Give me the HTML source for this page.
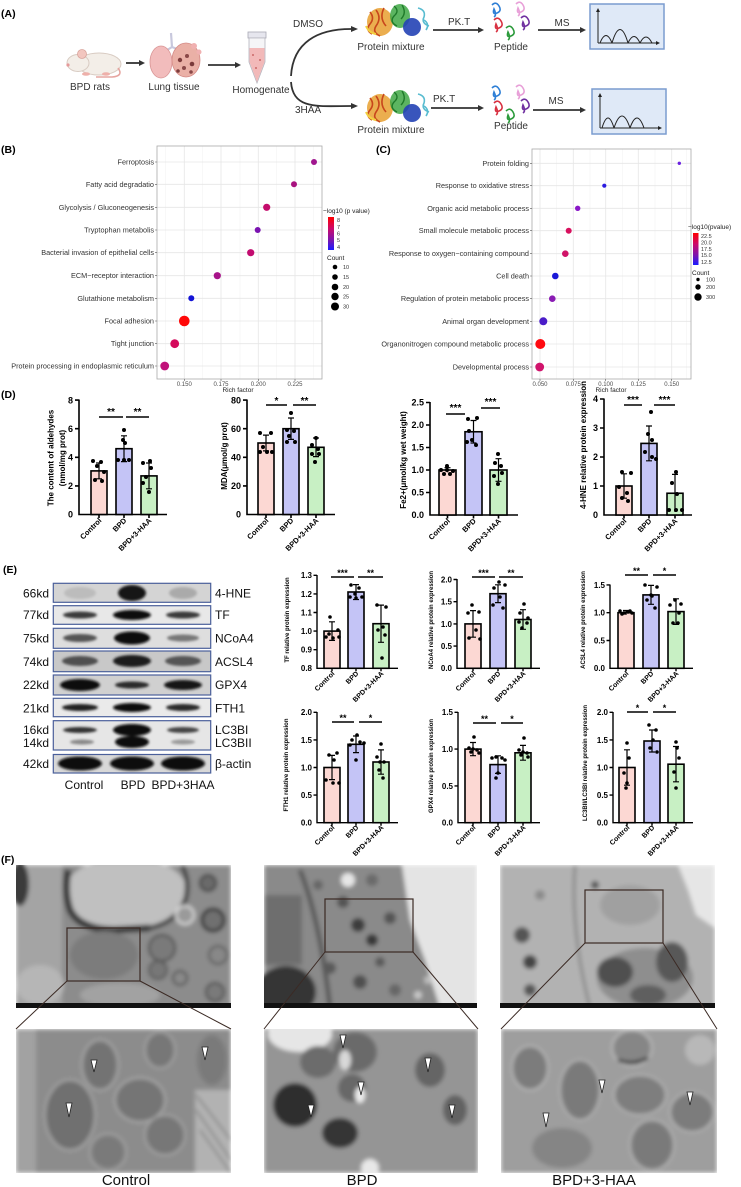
<!DOCTYPE html>
<html><head><meta charset="utf-8"><style>
html,body{margin:0;padding:0;background:#fff;}
svg{display:block;font-family:"Liberation Sans",Arial,sans-serif;}
.ax{stroke:#000;stroke-width:1.6;fill:none}
.ax2{stroke:#000;stroke-width:1.4;fill:none}
.b1{fill:#fcd8d3;stroke:#000;stroke-width:1.6}
.b2{fill:#c4c4f6;stroke:#000;stroke-width:1.6}
.b3{fill:#c8f0c4;stroke:#000;stroke-width:1.6}
.eb{stroke:#000;stroke-width:1.2;fill:none}
.tk{font-size:9px;font-weight:bold;text-anchor:end}
.tk2{font-size:8px;font-weight:bold;text-anchor:end}
.xl{font-size:7.5px;font-weight:bold;text-anchor:end}
.xl2{font-size:7px;font-weight:bold;text-anchor:end}
.st{font-size:10px;font-weight:bold;text-anchor:middle}
.st2{font-size:9px;font-weight:bold;text-anchor:middle}
.yl{font-size:8px;font-weight:bold;text-anchor:middle}
.yl2{font-size:6px;font-weight:bold;text-anchor:middle}
.pl{font-size:10.5px;font-weight:bold}
.al{font-size:10px;fill:#333}
.bl{font-size:7.3px;fill:#333;text-anchor:end}
.gt{font-size:6px;fill:#4d4d4d;text-anchor:middle}
.lg{font-size:6.5px;fill:#222}
.ln{font-size:5.5px;fill:#333}
.wb{font-size:12px;fill:#111}
.gmaj{stroke:#e6e6e6;stroke-width:0.8}
.gmin{stroke:#f2f2f2;stroke-width:0.6}
.dt circle{fill:#000}
.fl{font-size:15px;fill:#111;text-anchor:middle}
</style></head><body>
<svg width="741" height="1187" viewBox="0 0 741 1187" xmlns="http://www.w3.org/2000/svg">
<defs>
<linearGradient id="cb" x1="0" y1="0" x2="0" y2="1"><stop offset="0" stop-color="#ff0000"/><stop offset="0.35" stop-color="#cc0a6a"/><stop offset="0.7" stop-color="#7a14b0"/><stop offset="1" stop-color="#1a1aff"/></linearGradient>
<filter id="bl" x="-30%" y="-80%" width="160%" height="260%"><feGaussianBlur stdDeviation="1.4"/></filter>
<filter id="fb" x="-5%" y="-5%" width="110%" height="110%"><feGaussianBlur stdDeviation="2"/></filter>
<clipPath id="c1"><rect x="16" y="865" width="215" height="143"/></clipPath>
<clipPath id="c2"><rect x="264" y="865" width="213" height="143"/></clipPath>
<clipPath id="c3"><rect x="500" y="865" width="215" height="143"/></clipPath>
<clipPath id="c4"><rect x="16" y="1029" width="215" height="144"/></clipPath>
<clipPath id="c5"><rect x="264" y="1029" width="214" height="144"/></clipPath>
<clipPath id="c6"><rect x="501" y="1029" width="216" height="144"/></clipPath>
</defs>
<rect width="741" height="1187" fill="#fff"/>

<!-- ============ PANEL A ============ -->
<text class="pl" x="1" y="17">(A)</text>
<!-- rat -->
<ellipse cx="99" cy="64" rx="22" ry="11" fill="#f3eee8" stroke="#d8cbc2" stroke-width="1"/>
<ellipse cx="78" cy="63" rx="11" ry="8.5" fill="#f3eee8" stroke="#d8cbc2" stroke-width="1"/>
<circle cx="82" cy="54" r="4.5" fill="#f2c6bf" stroke="#d9a49c" stroke-width="0.8"/>
<circle cx="68" cy="65" r="1.6" fill="#e59a9a"/>
<path d="M118,68 Q124,76 112,77 L96,77" stroke="#e6a5a0" stroke-width="1.6" fill="none"/>
<ellipse cx="86" cy="74" rx="4" ry="1.8" fill="#eeb0aa"/>
<ellipse cx="106" cy="74" rx="4" ry="1.8" fill="#eeb0aa"/>
<!-- lung -->
<path d="M171,33 L172,47 M172,47 L164,52 M172,47 L182,51" stroke="#c8c8dd" stroke-width="2.2" fill="none"/>
<ellipse cx="161" cy="62" rx="11" ry="16" fill="#f2bcbc" stroke="#d99595" stroke-width="0.8"/>
<ellipse cx="186" cy="60" rx="14" ry="17" fill="#eab0a6" stroke="#d48a86" stroke-width="0.8"/>
<circle cx="180" cy="60" r="2.2" fill="#7d3c3c"/><circle cx="187" cy="56" r="2" fill="#8a4848"/><circle cx="192" cy="64" r="2.3" fill="#7a3a3a"/><circle cx="184" cy="68" r="2" fill="#8a4848"/><circle cx="178" cy="71" r="1.8" fill="#7d3c3c"/><circle cx="191" cy="72" r="1.8" fill="#8a4848"/>
<circle cx="194" cy="46" r="3" fill="#f0b0b0"/><circle cx="199" cy="52" r="2.5" fill="#f0b0b0"/>
<!-- tube -->
<rect x="248" y="32" width="18" height="6" fill="#e6e6ee" stroke="#a9a9b5" stroke-width="0.8"/>
<path d="M249,38 L265,38 L265,62 L257,83 L249,62 Z" fill="#f5f5f7" stroke="#b5b5bf" stroke-width="0.8"/>
<path d="M249.5,48 L264.5,48 L264.5,62 L257,82 L249.5,62 Z" fill="#f2b9b9"/>
<circle cx="253" cy="55" r="0.9" fill="#c05050"/><circle cx="260" cy="60" r="0.9" fill="#c05050"/><circle cx="256" cy="68" r="0.9" fill="#c05050"/>
<!-- arrows -->
<g stroke="#333" stroke-width="1.8" fill="none">
<path d="M126,63 H139"/><path d="M208,65 H235"/>
<path d="M291,76 C293,42 318,29 351,29"/>
<path d="M291,82 C293,110 318,106 351,106"/>
<path d="M433,30 H478"/><path d="M538,30 H580"/>
<path d="M431,108 H478"/><path d="M533,110 H580"/>
</g>
<g fill="#333">
<polygon points="139,60 145,63 139,66"/><polygon points="235,62 241,65 235,68"/>
<polygon points="351,26 358,29 351,32"/><polygon points="351,103 358,106 351,109"/>
<polygon points="478,27 484,30 478,33"/><polygon points="580,27 586,30 580,33"/>
<polygon points="478,105 484,108 478,111"/><polygon points="580,107 586,110 580,113"/>
</g>
<!-- proteins -->
<g id="prot">
<ellipse cx="380" cy="22" rx="13" ry="14" fill="#e8a030" opacity="0.85"/>
<path d="M370,12 q5,6 0,12 q-5,6 2,10 M376,10 q6,8 0,16 q-4,6 4,10 M384,8 q-5,10 2,18" stroke="#c8461c" stroke-width="1.6" fill="none"/>
<ellipse cx="400" cy="16" rx="10" ry="12" fill="#40a845" opacity="0.85"/>
<path d="M394,6 q6,5 0,10 q-5,6 3,10 M402,5 q5,8 -1,14" stroke="#1f7a2a" stroke-width="1.4" fill="none"/>
<ellipse cx="412" cy="27" rx="9" ry="9" fill="#2443b5" opacity="0.9"/>
<path d="M418,8 q8,2 6,9 q-3,6 5,9 M424,20 q6,4 2,10" stroke="#58bcd0" stroke-width="1.6" fill="none"/>
<path d="M366,26 q3,7 10,8" stroke="#f2d040" stroke-width="2" fill="none"/>
</g>
<use href="#prot" transform="translate(0,86)"/>
<!-- peptides -->
<g id="pep" fill="none" stroke-width="1.6">
<path d="M492,5 q4,-4 7,1 q3,5 -2,7 q-5,2 -3,-4 q3,6 0,8" stroke="#2e7fd6"/>
<path d="M516,4 q4,-4 7,1 q3,5 -2,7 q-5,2 -3,-4 q3,6 0,8" stroke="#e8a0d8"/>
<path d="M494,20 q4,-4 7,1 q3,5 -2,7 q-5,2 -3,-4 q3,6 0,8" stroke="#d83040"/>
<path d="M521,18 q4,-4 7,1 q3,5 -2,7 q-5,2 -3,-4 q3,6 0,8" stroke="#7030a0"/>
<path d="M506,28 q4,-4 7,1 q3,5 -2,7 q-5,2 -3,-4 q3,6 0,8" stroke="#2a9a3a"/>
</g>
<use href="#pep" transform="translate(0,83)"/>
<!-- graph boxes -->
<rect x="590" y="4" width="74" height="45" fill="#dfe9f7" stroke="#7a9ccf" stroke-width="1.5"/>
<g stroke="#222" stroke-width="1" fill="none">
<path d="M598,43 V11 M598,43 H657"/>
<path d="M600,43 Q606,28 612,43 M612,43 Q620,16 628,43 M628,43 Q634,30 640,43 M640,43 Q646,31 652,43"/>
</g>
<polygon points="596,12 598,8 600,12" fill="#222"/><polygon points="656,41 660,43 656,45" fill="#222"/>
<rect x="592" y="89" width="74" height="45" fill="#dfe9f7" stroke="#7a9ccf" stroke-width="1.5"/>
<g stroke="#222" stroke-width="1" fill="none">
<path d="M600,128 V96 M600,128 H659"/>
<path d="M602,128 Q608,108 614,128 M614,128 Q622,104 630,128 M630,128 Q637,108 644,128"/>
</g>
<polygon points="598,97 600,93 602,97" fill="#222"/><polygon points="658,126 662,128 658,130" fill="#222"/>
<!-- A text -->
<text class="al" x="90" y="90" text-anchor="middle">BPD rats</text>
<text class="al" x="174" y="90" text-anchor="middle">Lung tissue</text>
<text class="al" x="261" y="93" text-anchor="middle">Homogenate</text>
<text class="al" x="293" y="27">DMSO</text>
<text class="al" x="295" y="113">3HAA</text>
<text class="al" x="391" y="50" text-anchor="middle">Protein mixture</text>
<text class="al" x="391" y="133" text-anchor="middle">Protein mixture</text>
<text class="al" x="448" y="25">PK.T</text>
<text class="al" x="433" y="102">PK.T</text>
<text class="al" x="511" y="50" text-anchor="middle">Peptide</text>
<text class="al" x="511" y="129" text-anchor="middle">Peptide</text>
<text class="al" x="562" y="26" text-anchor="middle">MS</text>
<text class="al" x="556" y="104" text-anchor="middle">MS</text>

<!-- ============ PANEL B ============ -->
<text class="pl" x="1" y="153">(B)</text>
<rect x="157" y="146" width="165" height="233" fill="#fff"/>
<g class="gmin"><path d="M165.7,146V379M202.7,146V379M240,146V379M276.7,146V379M313.3,146V379"/></g>
<g class="gmaj"><path d="M184.3,146V379M221,146V379M258.3,146V379M295,146V379"/>
<path d="M157,162H322M157,184.3H322M157,207.3H322M157,230H322M157,252.7H322M157,275.7H322M157,298.3H322M157,321H322M157,343.7H322M157,366H322"/></g>
<rect x="157" y="146" width="165" height="233" fill="none" stroke="#aaa" stroke-width="0.8"/>
<g stroke="#555" stroke-width="0.6"><path d="M155,162H157M155,184.3H157M155,207.3H157M155,230H157M155,252.7H157M155,275.7H157M155,298.3H157M155,321H157M155,343.7H157M155,366H157M184.3,379V381M221,379V381M258.3,379V381M295,379V381"/></g>
<circle cx="314" cy="162" r="3" fill="#a0168e"/>
<circle cx="294" cy="184.3" r="3" fill="#a8127f"/>
<circle cx="266.7" cy="207.3" r="3.6" fill="#c40c6c"/>
<circle cx="257.7" cy="230" r="3" fill="#7a12b0"/>
<circle cx="250.7" cy="252.7" r="3.6" fill="#c20c70"/>
<circle cx="217.3" cy="275.7" r="3.6" fill="#a8148a"/>
<circle cx="191.3" cy="298.3" r="3" fill="#1414d6"/>
<circle cx="184.3" cy="321" r="5.3" fill="#ff0808"/>
<circle cx="174.7" cy="343.7" r="4.4" fill="#d40a5c"/>
<circle cx="164.7" cy="366" r="4.4" fill="#c0127a"/>
<text class="bl" x="154" y="164.5">Ferroptosis</text>
<text class="bl" x="154" y="186.8">Fatty acid degradatio</text>
<text class="bl" x="154" y="209.8">Glycolysis / Gluconeogenesis</text>
<text class="bl" x="154" y="232.5">Tryptophan metabolis</text>
<text class="bl" x="154" y="255.2">Bacterial invasion of epithelial cells</text>
<text class="bl" x="154" y="278.2">ECM−receptor interaction</text>
<text class="bl" x="154" y="300.8">Glutathione metabolism</text>
<text class="bl" x="154" y="323.5">Focal adhesion</text>
<text class="bl" x="154" y="346.2">Tight junction</text>
<text class="bl" x="154" y="368.5">Protein processing in endoplasmic reticulum</text>
<text class="gt" x="184.3" y="386">0.150</text><text class="gt" x="221" y="386">0.175</text><text class="gt" x="258.3" y="386">0.200</text><text class="gt" x="295" y="386">0.225</text>
<text class="lg" x="238" y="392" text-anchor="middle">Rich factor</text>
<text class="lg" x="323" y="213">−log10 (p value)</text>
<rect x="328" y="217" width="6" height="33" fill="url(#cb)"/>
<text class="ln" x="337" y="222">8</text><text class="ln" x="337" y="229">7</text><text class="ln" x="337" y="235.5">6</text><text class="ln" x="337" y="242">5</text><text class="ln" x="337" y="249">4</text>
<text class="lg" x="327" y="260">Count</text>
<circle cx="335" cy="267" r="2.3"/><circle cx="335" cy="277" r="2.8"/><circle cx="335" cy="287" r="3.3"/><circle cx="335" cy="296.5" r="3.7"/><circle cx="335" cy="306.5" r="4"/>
<text class="ln" x="343" y="269">10</text><text class="ln" x="343" y="279">15</text><text class="ln" x="343" y="289">20</text><text class="ln" x="343" y="298.5">25</text><text class="ln" x="343" y="308.5">30</text>

<!-- ============ PANEL C ============ -->
<text class="pl" x="376" y="153">(C)</text>
<g class="gmin"><path d="M556.7,149V379M590,149V379M622.3,149V379M655,149V379M686.7,149V379"/></g>
<g class="gmaj"><path d="M540,149V379M573.3,149V379M605.7,149V379M638.3,149V379M671.7,149V379"/>
<path d="M532,163.3H691M532,185.7H691M532,208.3H691M532,230.7H691M532,253.7H691M532,276H691M532,298.7H691M532,321.3H691M532,344H691M532,367H691"/></g>
<rect x="532" y="149" width="159" height="230" fill="none" stroke="#aaa" stroke-width="0.8"/>
<g stroke="#555" stroke-width="0.6"><path d="M530,163.3H532M530,185.7H532M530,208.3H532M530,230.7H532M530,253.7H532M530,276H532M530,298.7H532M530,321.3H532M530,344H532M530,367H532M540,379V381M573.3,379V381M605.7,379V381M638.3,379V381M671.7,379V381"/></g>
<circle cx="679.3" cy="163.3" r="1.7" fill="#6a20e0"/>
<circle cx="604.3" cy="185.7" r="2.1" fill="#2a1ae0"/>
<circle cx="577.7" cy="208.3" r="2.7" fill="#8a18c8"/>
<circle cx="568.7" cy="230.7" r="3" fill="#d8105e"/>
<circle cx="565.3" cy="253.7" r="3.3" fill="#d01468"/>
<circle cx="555.3" cy="276" r="3.3" fill="#1a18d8"/>
<circle cx="552.3" cy="298.7" r="3.3" fill="#8a1cb4"/>
<circle cx="543.3" cy="321.3" r="4" fill="#4a1cc8"/>
<circle cx="540.3" cy="344" r="5" fill="#ff0a10"/>
<circle cx="539.7" cy="367" r="4.4" fill="#d0146c"/>
<text class="bl" x="529" y="165.8">Protein folding</text>
<text class="bl" x="529" y="188.2">Response to oxidative stress</text>
<text class="bl" x="529" y="210.8">Organic acid metabolic process</text>
<text class="bl" x="529" y="233.2">Small molecule metabolic process</text>
<text class="bl" x="529" y="256.2">Response to oxygen−containing compound</text>
<text class="bl" x="529" y="278.5">Cell death</text>
<text class="bl" x="529" y="301.2">Regulation of protein metabolic process</text>
<text class="bl" x="529" y="323.8">Animal organ development</text>
<text class="bl" x="529" y="346.5">Organonitrogen compound metabolic process</text>
<text class="bl" x="529" y="369.5">Developmental process</text>
<text class="gt" x="540" y="386">0.050</text><text class="gt" x="573.3" y="386">0.075</text><text class="gt" x="605.7" y="386">0.100</text><text class="gt" x="638.3" y="386">0.125</text><text class="gt" x="671.7" y="386">0.150</text>
<text class="lg" x="611" y="392" text-anchor="middle">Rich factor</text>
<text class="lg" x="688" y="229">−log10(pvalue)</text>
<rect x="693" y="233" width="5.5" height="32" fill="url(#cb)"/>
<text class="ln" x="701" y="238">22.5</text><text class="ln" x="701" y="244.5">20.0</text><text class="ln" x="701" y="251">17.5</text><text class="ln" x="701" y="257">15.0</text><text class="ln" x="701" y="264">12.5</text>
<text class="lg" x="692" y="275">Count</text>
<circle cx="698" cy="279.5" r="1.7"/><circle cx="698" cy="287" r="2.7"/><circle cx="698" cy="297" r="3.7"/>
<text class="ln" x="706" y="281.5">100</text><text class="ln" x="706" y="289">200</text><text class="ln" x="706" y="299">300</text>

<!-- ============ PANEL D ============ -->
<text class="pl" x="1" y="398">(D)</text>
<!-- D1 -->
<path class="ax" d="M79,399.5V514.5H167"/>
<path class="ax" d="M75,400.1H79M75,428.7H79M75,457.3H79M75,485.9H79M99,514.5v3.5M124,514.5v3.5M149,514.5v3.5"/>
<text class="tk" x="73" y="403.3">8</text><text class="tk" x="73" y="431.9">6</text><text class="tk" x="73" y="460.5">4</text><text class="tk" x="73" y="489.1">2</text><text class="tk" x="73" y="517.7">0</text>
<rect class="b1" x="91" y="470.9" width="16" height="43.6"/>
<rect class="b2" x="116" y="448.7" width="16" height="65.8"/>
<rect class="b3" x="141" y="475.9" width="16" height="38.6"/>
<path class="eb" d="M99,463V478.8M96,463H102M96,478.8H102M124,435.8V461.6M121,435.8H127M121,461.6H127M149,463V488.8M146,463H152M146,488.8H152"/>
<g class="dt"><circle cx="93" cy="461" r="2"/><circle cx="101" cy="462" r="2"/><circle cx="97" cy="466" r="2"/><circle cx="104" cy="472" r="2"/><circle cx="95" cy="480" r="2"/><circle cx="102" cy="481" r="2"/>
<circle cx="124" cy="430" r="2"/><circle cx="123" cy="440" r="2"/><circle cx="125" cy="443" r="2"/><circle cx="118" cy="460" r="2"/><circle cx="124" cy="460" r="2"/><circle cx="129" cy="460" r="2"/>
<circle cx="150" cy="461" r="2"/><circle cx="143" cy="463" r="2"/><circle cx="151" cy="468" r="2"/><circle cx="146" cy="477" r="2"/><circle cx="143" cy="483" r="2"/><circle cx="149" cy="492" r="2"/></g>
<path class="ax" d="M99,417H123M126,417H149"/>
<text class="st" x="111" y="415">**</text><text class="st" x="137.5" y="415">**</text>
<text class="yl" transform="translate(53.5,458) rotate(-90)">The content of aldehydes</text>
<text class="yl" transform="translate(65,458) rotate(-90)">(nmol/mg prot)</text>
<text class="xl" transform="translate(102,521) rotate(-45)">Control</text>
<text class="xl" transform="translate(127,521) rotate(-45)">BPD</text>
<text class="xl" transform="translate(152,521) rotate(-45)">BPD+3-HAA</text>
<!-- D2 -->
<path class="ax" d="M247,399.5V514.5H335"/>
<path class="ax" d="M243,400.1H247M243,428.7H247M243,457.3H247M243,485.9H247M266,514.5v3.5M291,514.5v3.5M316,514.5v3.5"/>
<text class="tk" x="241" y="403.3">80</text><text class="tk" x="241" y="431.9">60</text><text class="tk" x="241" y="460.5">40</text><text class="tk" x="241" y="489.1">20</text><text class="tk" x="241" y="517.7">0</text>
<rect class="b1" x="258" y="443" width="16" height="71.5"/>
<rect class="b2" x="283" y="428.7" width="16" height="85.8"/>
<rect class="b3" x="308" y="447.3" width="16" height="67.2"/>
<path class="eb" d="M266,435.1V450.9M263,435.1H269M263,450.9H269M291,418V439.4M288,418H294M288,439.4H294M316,438V456.6M313,438H319M313,456.6H319"/>
<g class="dt"><circle cx="260" cy="433" r="2"/><circle cx="271" cy="433" r="2"/><circle cx="263" cy="447" r="2"/><circle cx="260" cy="452" r="2"/><circle cx="267" cy="452" r="2"/><circle cx="272" cy="452" r="2"/>
<circle cx="291" cy="413" r="2"/><circle cx="287" cy="430" r="2"/><circle cx="294" cy="431" r="2"/><circle cx="289" cy="436" r="2"/><circle cx="287" cy="442" r="2"/><circle cx="295" cy="442" r="2"/>
<circle cx="316" cy="438" r="2"/><circle cx="312" cy="445" r="2"/><circle cx="318" cy="449" r="2"/><circle cx="312" cy="454" r="2"/><circle cx="319" cy="454" r="2"/><circle cx="315" cy="462" r="2"/></g>
<path class="ax" d="M266,405H287M293,405H316"/>
<text class="st" x="276.5" y="404">*</text><text class="st" x="304.5" y="404">**</text>
<text class="yl" transform="translate(227,456) rotate(-90)">MDA(μmol/g prot)</text>
<text class="xl" transform="translate(269,521) rotate(-45)">Control</text>
<text class="xl" transform="translate(294,521) rotate(-45)">BPD</text>
<text class="xl" transform="translate(319,521) rotate(-45)">BPD+3-HAA</text>
<!-- D3 -->
<path class="ax" d="M430,402V515H518"/>
<path class="ax" d="M426,402.5H430M426,425H430M426,447.5H430M426,470H430M426,492.5H430M447.5,515v3.5M473.5,515v3.5M498.5,515v3.5"/>
<text class="tk" x="424" y="405.7">2.5</text><text class="tk" x="424" y="428.2">2.0</text><text class="tk" x="424" y="450.7">1.5</text><text class="tk" x="424" y="473.2">1.0</text><text class="tk" x="424" y="495.7">0.5</text><text class="tk" x="424" y="518.2">0.0</text>
<rect class="b1" x="439" y="470" width="17" height="45"/>
<rect class="b2" x="465" y="431.75" width="17" height="83.25"/>
<rect class="b3" x="490" y="470" width="17" height="45"/>
<path class="eb" d="M447.5,467.7V472.3M444.5,467.7H450.5M473.5,420.5V443M470.5,420.5H476.5M470.5,443H476.5M498.5,458.7V481.3M495.5,458.7H501.5M495.5,481.3H501.5"/>
<g class="dt"><circle cx="441" cy="470" r="2"/><circle cx="447" cy="466" r="2"/><circle cx="453" cy="471" r="2"/><circle cx="444" cy="474" r="2"/><circle cx="450" cy="474" r="2"/><circle cx="447" cy="470" r="2"/>
<circle cx="468" cy="419" r="2"/><circle cx="477" cy="418" r="2"/><circle cx="469" cy="431" r="2"/><circle cx="472" cy="440" r="2"/><circle cx="476" cy="445" r="2"/><circle cx="467" cy="442" r="2"/>
<circle cx="498" cy="454" r="2"/><circle cx="495" cy="463" r="2"/><circle cx="502" cy="473" r="2"/><circle cx="494" cy="476" r="2"/><circle cx="498" cy="484" r="2"/><circle cx="501" cy="466" r="2"/></g>
<path class="ax" d="M446,414H465M481,408H500"/>
<text class="st" x="455.5" y="411">***</text><text class="st" x="490.5" y="405">***</text>
<text class="yl" transform="translate(406,460) rotate(-90)">Fe2+(μmol/kg wet weight)</text>
<text class="xl" transform="translate(450.5,521.5) rotate(-45)">Control</text>
<text class="xl" transform="translate(476.5,521.5) rotate(-45)">BPD</text>
<text class="xl" transform="translate(501.5,521.5) rotate(-45)">BPD+3-HAA</text>
<!-- D4 -->
<path class="ax" d="M604,398.5V515H692"/>
<path class="ax" d="M600,399H604M600,428H604M600,457H604M600,486H604M624,515v3.5M649,515v3.5M675,515v3.5"/>
<text class="tk" x="598" y="402.2">4</text><text class="tk" x="598" y="431.2">3</text><text class="tk" x="598" y="460.2">2</text><text class="tk" x="598" y="489.2">1</text><text class="tk" x="598" y="518.2">0</text>
<rect class="b1" x="616" y="486" width="16" height="29"/>
<rect class="b2" x="641" y="443.4" width="16" height="71.6"/>
<rect class="b3" x="667" y="493.25" width="16" height="21.75"/>
<path class="eb" d="M624,473.8V498.2M621,473.8H627M621,498.2H627M649,426V460.8M646,426H652M646,460.8H652M675,474.4V512M672,474.4H678"/>
<g class="dt"><circle cx="622" cy="472" r="2"/><circle cx="631" cy="473" r="2"/><circle cx="619" cy="487" r="2"/><circle cx="627" cy="493" r="2"/><circle cx="622" cy="498" r="2"/><circle cx="628" cy="501" r="2"/>
<circle cx="651" cy="412" r="2"/><circle cx="648" cy="434" r="2"/><circle cx="652" cy="440" r="2"/><circle cx="645" cy="452" r="2"/><circle cx="652" cy="457" r="2"/><circle cx="656" cy="459" r="2"/>
<circle cx="676" cy="472" r="2"/><circle cx="672" cy="483" r="2"/><circle cx="677" cy="494" r="2"/><circle cx="669" cy="510" r="2"/><circle cx="676" cy="510" r="2"/><circle cx="682" cy="510" r="2"/></g>
<path class="ax" d="M624,405H642M654,405H675"/>
<text class="st" x="633" y="403">***</text><text class="st" x="664.5" y="403">***</text>
<text class="yl" transform="translate(586,445) rotate(-90)">4-HNE relative protein expression</text>
<text class="xl" transform="translate(627,521.5) rotate(-45)">Control</text>
<text class="xl" transform="translate(652,521.5) rotate(-45)">BPD</text>
<text class="xl" transform="translate(678,521.5) rotate(-45)">BPD+3-HAA</text>

<!-- ============ PANEL E: blots ============ -->
<text class="pl" x="3" y="573">(E)</text>
<g>
<rect x="53.3" y="583.3" width="157.4" height="19" fill="#d4d4d4"/>
<rect x="53.3" y="605.7" width="157.4" height="18.6" fill="#e8e8e8"/>
<rect x="53.3" y="628.3" width="157.4" height="20" fill="#dedede"/>
<rect x="53.3" y="651" width="157.4" height="20.7" fill="#c8c8c8"/>
<rect x="53.3" y="675" width="157.4" height="20" fill="#d0d0d0"/>
<rect x="53.3" y="698.3" width="157.4" height="18.4" fill="#eaeaea"/>
<rect x="53.3" y="720.7" width="157.4" height="29.3" fill="#e6e6e6"/>
<rect x="53.3" y="754.5" width="157.4" height="18.5" fill="#d8d8d8"/>
<g filter="url(#bl)">
<ellipse cx="80" cy="593" rx="16" ry="6" fill="#bcbcbc"/><ellipse cx="132" cy="593" rx="14" ry="8" fill="#151515"/><ellipse cx="183" cy="593" rx="14" ry="6" fill="#aaaaaa"/>
<ellipse cx="80" cy="615" rx="17" ry="3.5" fill="#3a3a3a"/><ellipse cx="132" cy="615" rx="19" ry="5" fill="#111"/><ellipse cx="183" cy="615" rx="17" ry="3.5" fill="#3a3a3a"/>
<ellipse cx="80" cy="638" rx="17" ry="4" fill="#555"/><ellipse cx="132" cy="638" rx="18" ry="6.5" fill="#0a0a0a"/><ellipse cx="183" cy="638" rx="16" ry="3.5" fill="#777"/>
<ellipse cx="80" cy="661" rx="18" ry="5" fill="#505050"/><ellipse cx="132" cy="661" rx="19" ry="6" fill="#1a1a1a"/><ellipse cx="183" cy="661" rx="18" ry="5" fill="#555"/>
<ellipse cx="80" cy="685" rx="20" ry="6" fill="#0e0e0e"/><ellipse cx="132" cy="685" rx="17" ry="3.5" fill="#2a2a2a"/><ellipse cx="183" cy="685" rx="19" ry="5" fill="#141414"/>
<ellipse cx="80" cy="707.5" rx="18" ry="3.5" fill="#222"/><ellipse cx="132" cy="707.5" rx="19" ry="4.5" fill="#111"/><ellipse cx="183" cy="707.5" rx="17" ry="3.5" fill="#2a2a2a"/>
<ellipse cx="80" cy="730" rx="17" ry="3" fill="#333"/><ellipse cx="132" cy="730" rx="19" ry="6" fill="#080808"/><ellipse cx="183" cy="730" rx="16" ry="3" fill="#444"/>
<ellipse cx="82" cy="742" rx="12" ry="2.5" fill="#888"/><ellipse cx="132" cy="742" rx="17" ry="6" fill="#0a0a0a"/><ellipse cx="183" cy="742" rx="12" ry="2.5" fill="#999"/>
<ellipse cx="80" cy="763.5" rx="22" ry="7" fill="#080808"/><ellipse cx="132" cy="763.5" rx="22" ry="7" fill="#080808"/><ellipse cx="183" cy="763.5" rx="22" ry="7" fill="#080808"/>
</g>
<g fill="none" stroke="#4a5f9a" stroke-width="1.2">
<rect x="53.3" y="583.3" width="157.4" height="19"/>
<rect x="53.3" y="605.7" width="157.4" height="18.6"/>
<rect x="53.3" y="628.3" width="157.4" height="20"/>
<rect x="53.3" y="651" width="157.4" height="20.7"/>
<rect x="53.3" y="675" width="157.4" height="20"/>
<rect x="53.3" y="698.3" width="157.4" height="18.4"/>
<rect x="53.3" y="720.7" width="157.4" height="29.3"/>
<rect x="53.3" y="754.5" width="157.4" height="18.5"/>
</g>
</g>
<g class="wb" text-anchor="end">
<text x="49" y="597.5">66kd</text><text x="49" y="619.2">77kd</text><text x="49" y="642.5">75kd</text><text x="49" y="665.9">74kd</text><text x="49" y="689.2">22kd</text><text x="49" y="712.5">21kd</text><text x="49" y="734.2">16kd</text><text x="49" y="746.9">14kd</text><text x="49" y="768">42kd</text>
</g>
<g class="wb">
<text x="215" y="597.5">4-HNE</text><text x="215" y="619.2">TF</text><text x="215" y="642.5">NCoA4</text><text x="215" y="665.9">ACSL4</text><text x="215" y="689.2">GPX4</text><text x="215" y="712.5">FTH1</text><text x="215" y="734.2">LC3BI</text><text x="215" y="746.9">LC3BII</text><text x="215" y="768">β-actin</text>
</g>
<g class="wb" text-anchor="middle">
<text x="84" y="789">Control</text><text x="133" y="789">BPD</text><text x="183" y="789">BPD+3HAA</text>
</g>

<!-- ============ PANEL E: charts ============ -->
<!-- TF -->
<path class="ax2" d="M317,575V668.3H398"/>
<path class="ax2" d="M313.5,575.3H317M313.5,593.9H317M313.5,612.5H317M313.5,631.1H317M313.5,649.7H317M332,668.3v3M356,668.3v3M381,668.3v3"/>
<text class="tk2" x="312" y="578.2">1.3</text><text class="tk2" x="312" y="596.8">1.2</text><text class="tk2" x="312" y="615.4">1.1</text><text class="tk2" x="312" y="634">1.0</text><text class="tk2" x="312" y="652.6">0.9</text><text class="tk2" x="312" y="671.2">0.8</text>
<rect class="b1" x="324" y="631.1" width="16" height="37.2"/>
<rect class="b2" x="348" y="592" width="16" height="76.3"/>
<rect class="b3" x="373" y="623.7" width="16" height="44.6"/>
<path class="eb" d="M332,621.8V640.4M329,621.8H335M329,640.4H335M356,584.6V599.5M353,584.6H359M353,599.5H359M381,605.1V642.3M378,605.1H384M378,642.3H384"/>
<g class="dt"><circle cx="330" cy="617" r="1.8"/><circle cx="338" cy="630" r="1.8"/><circle cx="326" cy="637" r="1.8"/><circle cx="333" cy="638" r="1.8"/><circle cx="339" cy="637" r="1.8"/><circle cx="329" cy="634" r="1.8"/>
<circle cx="351" cy="585" r="1.8"/><circle cx="359" cy="588" r="1.8"/><circle cx="350" cy="597" r="1.8"/><circle cx="356" cy="598" r="1.8"/><circle cx="362" cy="597" r="1.8"/><circle cx="355" cy="594" r="1.8"/>
<circle cx="377" cy="605" r="1.8"/><circle cx="386" cy="607" r="1.8"/><circle cx="383" cy="627" r="1.8"/><circle cx="378" cy="630" r="1.8"/><circle cx="385" cy="635" r="1.8"/><circle cx="382" cy="658" r="1.8"/></g>
<path class="ax2" d="M331,577H354M358,577H383"/>
<text class="st2" x="342.5" y="576">***</text><text class="st2" x="370.5" y="576">**</text>
<text class="yl2" transform="translate(289,620) rotate(-90)">TF relative protein expression</text>
<text class="xl2" transform="translate(335,674) rotate(-45)">Control</text>
<text class="xl2" transform="translate(359,674) rotate(-45)">BPD</text>
<text class="xl2" transform="translate(384,674) rotate(-45)">BPD+3-HAA</text>
<!-- NCoA4 -->
<path class="ax2" d="M457,579V668.3H540"/>
<path class="ax2" d="M453.5,579.5H457M453.5,601.7H457M453.5,623.9H457M453.5,646.1H457M473,668.3v3M498,668.3v3M523,668.3v3"/>
<text class="tk2" x="452" y="582.4">2.0</text><text class="tk2" x="452" y="604.6">1.5</text><text class="tk2" x="452" y="626.8">1.0</text><text class="tk2" x="452" y="649">0.5</text><text class="tk2" x="452" y="671.2">0.0</text>
<rect class="b1" x="465" y="623.9" width="16" height="44.4"/>
<rect class="b2" x="490" y="593.7" width="16" height="74.6"/>
<rect class="b3" x="515" y="619.5" width="16" height="48.8"/>
<path class="eb" d="M473,610.6V637.2M470,610.6H476M470,637.2H476M498,584.8V602.6M495,584.8H501M495,602.6H501M523,609.7V629.3M520,609.7H526M520,629.3H526"/>
<g class="dt"><circle cx="472" cy="605" r="1.8"/><circle cx="479" cy="612" r="1.8"/><circle cx="468" cy="613" r="1.8"/><circle cx="476" cy="630" r="1.8"/><circle cx="469" cy="638" r="1.8"/><circle cx="480" cy="639" r="1.8"/>
<circle cx="499" cy="582" r="1.8"/><circle cx="505" cy="585" r="1.8"/><circle cx="494" cy="588" r="1.8"/><circle cx="500" cy="597" r="1.8"/><circle cx="493" cy="605" r="1.8"/><circle cx="503" cy="608" r="1.8"/>
<circle cx="524" cy="604" r="1.8"/><circle cx="520" cy="613" r="1.8"/><circle cx="528" cy="618" r="1.8"/><circle cx="519" cy="622" r="1.8"/><circle cx="527" cy="623" r="1.8"/><circle cx="522" cy="628" r="1.8"/></g>
<path class="ax2" d="M472,577H495M499,577H523"/>
<text class="st2" x="483.5" y="576">***</text><text class="st2" x="511" y="576">**</text>
<text class="yl2" transform="translate(433,620) rotate(-90)">NCoA4 relative protein expression</text>
<text class="xl2" transform="translate(476,674) rotate(-45)">Control</text>
<text class="xl2" transform="translate(501,674) rotate(-45)">BPD</text>
<text class="xl2" transform="translate(526,674) rotate(-45)">BPD+3-HAA</text>
<!-- ACSL4 -->
<path class="ax2" d="M610,584.5V668.3H693"/>
<path class="ax2" d="M606.5,584.9H610M606.5,612.7H610M606.5,640.5H610M626,668.3v3M651,668.3v3M676,668.3v3"/>
<text class="tk2" x="605" y="587.8">1.5</text><text class="tk2" x="605" y="615.6">1.0</text><text class="tk2" x="605" y="643.4">0.5</text><text class="tk2" x="605" y="671.2">0.0</text>
<rect class="b1" x="618" y="612.7" width="16" height="55.6"/>
<rect class="b2" x="643" y="594.9" width="16" height="73.4"/>
<rect class="b3" x="668" y="611.6" width="16" height="56.7"/>
<path class="eb" d="M626,610.5V614.9M623,610.5H629M651,585.4V604.3M648,585.4H654M648,604.3H654M676,598.8V624.4M673,598.8H679M673,624.4H679"/>
<g class="dt"><circle cx="620" cy="611" r="1.8"/><circle cx="624" cy="613" r="1.8"/><circle cx="628" cy="612" r="1.8"/><circle cx="632" cy="613" r="1.8"/><circle cx="622" cy="614" r="1.8"/><circle cx="630" cy="611" r="1.8"/>
<circle cx="645" cy="585" r="1.8"/><circle cx="657" cy="587" r="1.8"/><circle cx="651" cy="595" r="1.8"/><circle cx="647" cy="600" r="1.8"/><circle cx="655" cy="608" r="1.8"/><circle cx="652" cy="596" r="1.8"/>
<circle cx="675" cy="600" r="1.8"/><circle cx="681" cy="604" r="1.8"/><circle cx="670" cy="605" r="1.8"/><circle cx="679" cy="613" r="1.8"/><circle cx="673" cy="623" r="1.8"/><circle cx="678" cy="623" r="1.8"/></g>
<path class="ax2" d="M625,575H648M653,575H676"/>
<text class="st2" x="636.5" y="574">**</text><text class="st2" x="664.5" y="574">*</text>
<text class="yl2" transform="translate(585,620) rotate(-90)">ACSL4 relative protein expression</text>
<text class="xl2" transform="translate(629,674) rotate(-45)">Control</text>
<text class="xl2" transform="translate(654,674) rotate(-45)">BPD</text>
<text class="xl2" transform="translate(679,674) rotate(-45)">BPD+3-HAA</text>
<!-- FTH1 -->
<path class="ax2" d="M317,712V822.7H398"/>
<path class="ax2" d="M313.5,712.3H317M313.5,739.9H317M313.5,767.5H317M313.5,795.1H317M332,822.7v3M356,822.7v3M381,822.7v3"/>
<text class="tk2" x="312" y="715.2">2.0</text><text class="tk2" x="312" y="742.8">1.5</text><text class="tk2" x="312" y="770.4">1.0</text><text class="tk2" x="312" y="798">0.5</text><text class="tk2" x="312" y="825.6">0.0</text>
<rect class="b1" x="324" y="767.5" width="16" height="55.2"/>
<rect class="b2" x="348" y="744.3" width="16" height="78.4"/>
<rect class="b3" x="373" y="762" width="16" height="60.7"/>
<path class="eb" d="M332,755.4V779.6M329,755.4H335M329,779.6H335M356,736V752.6M353,736H359M353,752.6H359M381,749.9V774.2M378,749.9H384M378,774.2H384"/>
<g class="dt"><circle cx="329" cy="755" r="1.8"/><circle cx="337" cy="753" r="1.8"/><circle cx="334" cy="760" r="1.8"/><circle cx="326" cy="780" r="1.8"/><circle cx="333" cy="783" r="1.8"/><circle cx="339" cy="783" r="1.8"/>
<circle cx="357" cy="735" r="1.8"/><circle cx="352" cy="740" r="1.8"/><circle cx="360" cy="742" r="1.8"/><circle cx="364" cy="743" r="1.8"/><circle cx="356" cy="760" r="1.8"/><circle cx="350" cy="745" r="1.8"/>
<circle cx="381" cy="744" r="1.8"/><circle cx="377" cy="757" r="1.8"/><circle cx="384" cy="762" r="1.8"/><circle cx="379" cy="770" r="1.8"/><circle cx="383" cy="778" r="1.8"/><circle cx="380" cy="762" r="1.8"/></g>
<path class="ax2" d="M332,722H354M359,722H382"/>
<text class="st2" x="343" y="721">**</text><text class="st2" x="370.5" y="721">*</text>
<text class="yl2" transform="translate(288,765) rotate(-90)">FTH1 relative protein expression</text>
<text class="xl2" transform="translate(335,828) rotate(-45)">Control</text>
<text class="xl2" transform="translate(359,828) rotate(-45)">BPD</text>
<text class="xl2" transform="translate(384,828) rotate(-45)">BPD+3-HAA</text>
<!-- GPX4 -->
<path class="ax2" d="M458,712V822.7H540"/>
<path class="ax2" d="M454.5,712.3H458M454.5,749.1H458M454.5,785.9H458M473,822.7v3M498,822.7v3M523,822.7v3"/>
<text class="tk2" x="453" y="715.2">1.5</text><text class="tk2" x="453" y="752">1.0</text><text class="tk2" x="453" y="788.8">0.5</text><text class="tk2" x="453" y="825.6">0.0</text>
<rect class="b1" x="465" y="749.1" width="16" height="73.6"/>
<rect class="b2" x="490" y="764.6" width="16" height="58.1"/>
<rect class="b3" x="515" y="752.8" width="16" height="69.9"/>
<path class="eb" d="M473,742.5V755.7M470,742.5H476M470,755.7H476M498,755.8V773.4M495,755.8H501M495,773.4H501M523,745.4V760.2M520,745.4H526M520,760.2H526"/>
<g class="dt"><circle cx="474" cy="737" r="1.8"/><circle cx="469" cy="748" r="1.8"/><circle cx="477" cy="750" r="1.8"/><circle cx="471" cy="752" r="1.8"/><circle cx="479" cy="753" r="1.8"/><circle cx="473" cy="749" r="1.8"/>
<circle cx="496" cy="757" r="1.8"/><circle cx="502" cy="758" r="1.8"/><circle cx="505" cy="760" r="1.8"/><circle cx="492" cy="758" r="1.8"/><circle cx="498" cy="773" r="1.8"/><circle cx="496" cy="778" r="1.8"/>
<circle cx="524" cy="738" r="1.8"/><circle cx="519" cy="750" r="1.8"/><circle cx="527" cy="753" r="1.8"/><circle cx="521" cy="755" r="1.8"/><circle cx="528" cy="757" r="1.8"/><circle cx="523" cy="752" r="1.8"/></g>
<path class="ax2" d="M473,723H496M501,723H523"/>
<text class="st2" x="484.5" y="722">**</text><text class="st2" x="512" y="722">*</text>
<text class="yl2" transform="translate(433,766) rotate(-90)">GPX4 relative protein expression</text>
<text class="xl2" transform="translate(476,828) rotate(-45)">Control</text>
<text class="xl2" transform="translate(501,828) rotate(-45)">BPD</text>
<text class="xl2" transform="translate(526,828) rotate(-45)">BPD+3-HAA</text>
<!-- LC3 -->
<path class="ax2" d="M613,712V822.7H693"/>
<path class="ax2" d="M609.5,712.3H613M609.5,739.9H613M609.5,767.5H613M609.5,795.1H613M627,822.7v3M652,822.7v3M676,822.7v3"/>
<text class="tk2" x="608" y="715.2">2.0</text><text class="tk2" x="608" y="742.8">1.5</text><text class="tk2" x="608" y="770.4">1.0</text><text class="tk2" x="608" y="798">0.5</text><text class="tk2" x="608" y="825.6">0.0</text>
<rect class="b1" x="619" y="767.5" width="16" height="55.2"/>
<rect class="b2" x="644" y="741" width="16" height="81.7"/>
<rect class="b3" x="668" y="764.2" width="16" height="58.5"/>
<path class="eb" d="M627,749.8V785.2M624,749.8H630M624,785.2H630M652,730V752M649,730H655M649,752H655M676,746.5V781.8M673,746.5H679M673,781.8H679"/>
<g class="dt"><circle cx="627" cy="743" r="1.8"/><circle cx="629" cy="758" r="1.8"/><circle cx="624" cy="773" r="1.8"/><circle cx="627" cy="783" r="1.8"/><circle cx="626" cy="788" r="1.8"/>
<circle cx="649" cy="725" r="1.8"/><circle cx="656" cy="730" r="1.8"/><circle cx="653" cy="740" r="1.8"/><circle cx="650" cy="748" r="1.8"/><circle cx="657" cy="752" r="1.8"/>
<circle cx="676" cy="742" r="1.8"/><circle cx="677" cy="748" r="1.8"/><circle cx="679" cy="758" r="1.8"/><circle cx="674" cy="772" r="1.8"/><circle cx="676" cy="788" r="1.8"/></g>
<path class="ax2" d="M627,712H648M653,712H676"/>
<text class="st2" x="637.5" y="711">*</text><text class="st2" x="664.5" y="711">*</text>
<text class="yl2" transform="translate(587,763) rotate(-90)">LC3BII/LC3BI relative protein expression</text>
<text class="xl2" transform="translate(630,828) rotate(-45)">Control</text>
<text class="xl2" transform="translate(655,828) rotate(-45)">BPD</text>
<text class="xl2" transform="translate(679,828) rotate(-45)">BPD+3-HAA</text>

<!-- ============ PANEL F ============ -->
<text class="pl" x="1" y="863">(F)</text>
<!-- Control top -->
<g clip-path="url(#c1)"><g filter="url(#fb)">
<rect x="16" y="865" width="215" height="143" fill="#8c8c8c"/>
<rect x="16" y="865" width="46" height="143" fill="#a4a4a4"/>
<ellipse cx="20" cy="884" rx="9" ry="22" fill="#3a3a3a"/>
<ellipse cx="126" cy="893" rx="62" ry="36" fill="#c0c0c0"/>
<path d="M68,870 Q64,892 70,910 Q80,930 115,930 L150,928" stroke="#3a3a3a" stroke-width="7" fill="none"/>
<path d="M150,928 Q178,922 186,898 Q190,880 182,866" stroke="#4a4a4a" stroke-width="5" fill="none"/>
<circle cx="208" cy="883" r="8" fill="#6a6a6a" stroke="#333" stroke-width="2"/>
<circle cx="185" cy="915" r="9" fill="#9a9a9a" stroke="#e0e0e0" stroke-width="2"/>
<circle cx="213" cy="920" r="11" fill="#707070" stroke="#2a2a2a" stroke-width="3"/>
<circle cx="162" cy="948" r="13" fill="#7a7a7a" stroke="#444" stroke-width="2"/>
<circle cx="158" cy="970" r="9" fill="#777" stroke="#555" stroke-width="2"/>
<circle cx="180" cy="978" r="7" fill="#8a8a8a" stroke="#4a4a4a" stroke-width="2"/>
<circle cx="218" cy="955" r="9" fill="#888" stroke="#555" stroke-width="2"/>
<circle cx="215" cy="992" r="9" fill="#7a7a7a" stroke="#444" stroke-width="2"/>
<ellipse cx="104" cy="955" rx="34" ry="24" fill="#7c7c7c"/>
<ellipse cx="40" cy="985" rx="24" ry="20" fill="#b6b6b6"/>
<ellipse cx="120" cy="995" rx="40" ry="12" fill="#a2a2a2"/>
</g>
<rect x="16" y="1003" width="215" height="5" fill="#111"/></g>
<rect x="67" y="928" width="73" height="53" fill="none" stroke="#3b2a24" stroke-width="1.2"/>
<!-- BPD top -->
<g clip-path="url(#c2)"><g filter="url(#fb)">
<rect x="264" y="865" width="213" height="143" fill="#8a8a8a"/>
<polygon points="402,865 477,865 477,1008 440,1008 425,960 410,920" fill="#e4e4e4"/>
<rect x="264" y="895" width="38" height="70" fill="#6e6e6e"/>
<ellipse cx="286" cy="992" rx="30" ry="26" fill="#363636"/>
<path d="M300,870 Q320,920 330,1008" stroke="#5a5a5a" stroke-width="5" fill="none"/>
<circle cx="348" cy="880" r="7" fill="#e6e6e6"/>
<circle cx="343" cy="902" r="6" fill="#555"/><circle cx="358" cy="925" r="7" fill="#3e3e3e"/><circle cx="372" cy="940" r="6" fill="#383838"/><circle cx="390" cy="918" r="6" fill="#555"/><circle cx="330" cy="968" r="6" fill="#5a5a5a"/><circle cx="360" cy="982" r="7" fill="#505050"/><circle cx="380" cy="962" r="5" fill="#5a5a5a"/><circle cx="395" cy="990" r="6" fill="#666"/>
<circle cx="372" cy="880" r="6" fill="#6a6a6a"/><circle cx="318" cy="885" r="5" fill="#666"/>
<circle cx="418" cy="995" r="4" fill="#c8c8c8"/><circle cx="428" cy="980" r="4" fill="#bdbdbd"/>
</g>
<rect x="264" y="1003" width="213" height="5" fill="#111"/></g>
<rect x="325" y="899" width="88" height="53" fill="none" stroke="#3b2a24" stroke-width="1.2"/>
<!-- HAA top -->
<g clip-path="url(#c3)"><g filter="url(#fb)">
<rect x="500" y="865" width="215" height="143" fill="#b2b2b2"/>
<polygon points="678,865 715,865 715,928 696,915 688,890" fill="#e6e6e6"/>
<path d="M575,865 Q570,930 590,1008" stroke="#8a8a8a" stroke-width="3" fill="none"/>
<ellipse cx="645" cy="978" rx="48" ry="30" fill="#8e8e8e"/>
<ellipse cx="615" cy="972" rx="18" ry="15" fill="#505050"/>
<ellipse cx="672" cy="962" rx="16" ry="20" fill="#585858"/>
<ellipse cx="648" cy="995" rx="18" ry="10" fill="#5e5e5e"/>
<circle cx="522" cy="935" r="8" fill="#555"/><circle cx="530" cy="962" r="7" fill="#454545"/><circle cx="530" cy="990" r="6" fill="#555"/>
<circle cx="595" cy="885" r="4" fill="#555"/><circle cx="540" cy="895" r="5" fill="#8a8a8a"/>
<ellipse cx="630" cy="905" rx="30" ry="20" fill="#a0a0a0"/>
</g>
<rect x="500" y="1003" width="215" height="5" fill="#111"/></g>
<rect x="585" y="890" width="78" height="53" fill="none" stroke="#3b2a24" stroke-width="1.2"/>
<!-- connector lines -->
<g stroke="#3b2a24" stroke-width="1"><path d="M67,981L16,1029M140,981L231,1029M325,952L264,1029M413,952L478,1029M585,943L501,1029M663,943L717,1029"/></g>
<!-- Control bottom -->
<g clip-path="url(#c4)"><g filter="url(#fb)">
<rect x="16" y="1029" width="215" height="144" fill="#8c8c8c"/>
<rect x="16" y="1029" width="20" height="144" fill="#a2a2a2"/>
<ellipse cx="100" cy="1065" rx="18" ry="25" fill="#737373" stroke="#aaa" stroke-width="2"/>
<ellipse cx="70" cy="1115" rx="25" ry="35" fill="#707070" stroke="#a8a8a8" stroke-width="2"/>
<ellipse cx="160" cy="1050" rx="15" ry="18" fill="#777" stroke="#a5a5a5" stroke-width="2"/>
<ellipse cx="140" cy="1100" rx="25" ry="22" fill="#747474" stroke="#aaa" stroke-width="2"/>
<ellipse cx="165" cy="1135" rx="20" ry="20" fill="#777" stroke="#a5a5a5" stroke-width="2"/>
<ellipse cx="108" cy="1152" rx="18" ry="18" fill="#7a7a7a" stroke="#a5a5a5" stroke-width="2"/>
<ellipse cx="212" cy="1060" rx="15" ry="25" fill="#7a7a7a"/>
<rect x="195" y="1090" width="36" height="83" fill="#b2b2b2"/>
<path d="M196,1095 L231,1140 M196,1110 L231,1160 M200,1130 L231,1173" stroke="#888" stroke-width="2"/>
</g></g>
<!-- BPD bottom -->
<g clip-path="url(#c5)"><g filter="url(#fb)">
<rect x="264" y="1029" width="214" height="144" fill="#959595"/>
<ellipse cx="300" cy="1034" rx="32" ry="18" fill="#e6e6e6"/>
<ellipse cx="318" cy="1062" rx="18" ry="16" fill="#6c6c6c"/>
<ellipse cx="355" cy="1052" rx="22" ry="20" fill="#6a6a6a"/>
<ellipse cx="345" cy="1060" rx="6" ry="10" fill="#d8d8d8"/>
<ellipse cx="295" cy="1105" rx="22" ry="22" fill="#2e2e2e"/>
<ellipse cx="340" cy="1133" rx="18" ry="15" fill="#353535"/>
<ellipse cx="352" cy="1088" rx="14" ry="14" fill="#686868"/>
<ellipse cx="360" cy="1095" rx="5" ry="8" fill="#ececec"/>
<ellipse cx="430" cy="1070" rx="15" ry="17" fill="#656565"/>
<ellipse cx="455" cy="1110" rx="12" ry="15" fill="#626262"/>
<circle cx="370" cy="1168" r="9" fill="#e8e8e8"/>
</g></g>
<!-- HAA bottom -->
<g clip-path="url(#c6)"><g filter="url(#fb)">
<rect x="501" y="1029" width="216" height="144" fill="#9e9e9e"/>
<ellipse cx="530" cy="1068" rx="18" ry="22" fill="#7c7c7c" stroke="#b8b8b8" stroke-width="2"/>
<ellipse cx="580" cy="1090" rx="20" ry="30" fill="#7a7a7a" stroke="#b5b5b5" stroke-width="2"/>
<ellipse cx="632" cy="1048" rx="20" ry="18" fill="#868686" stroke="#bdbdbd" stroke-width="2"/>
<path d="M618,1060 Q632,1066 648,1058" stroke="#222" stroke-width="3" fill="none"/>
<ellipse cx="640" cy="1095" rx="26" ry="20" fill="#7e7e7e" stroke="#b5b5b5" stroke-width="2"/>
<ellipse cx="692" cy="1112" rx="22" ry="20" fill="#7c7c7c" stroke="#b5b5b5" stroke-width="2"/>
<ellipse cx="652" cy="1145" rx="22" ry="25" fill="#7a7a7a" stroke="#b5b5b5" stroke-width="2"/>
<ellipse cx="562" cy="1148" rx="30" ry="20" fill="#858585"/>
<ellipse cx="700" cy="1050" rx="15" ry="15" fill="#b8b8b8"/>
</g></g>
<!-- arrowheads -->
<g fill="#fff" stroke="#222" stroke-width="0.8">
<polygon points="91,1060 97,1060 94,1072"/><polygon points="66,1103 72,1103 69,1117"/><polygon points="202,1047 208,1047 205,1060"/>
<polygon points="340,1035 346,1035 343,1048"/><polygon points="425,1058 431,1058 428,1072"/><polygon points="358,1082 364,1082 361,1095"/><polygon points="308,1105 314,1105 311,1117"/><polygon points="449,1105 455,1105 452,1118"/>
<polygon points="599,1080 605,1080 602,1093"/><polygon points="687,1092 693,1092 690,1105"/><polygon points="543,1113 549,1113 546,1127"/>
</g>
<text class="fl" x="126" y="1185">Control</text>
<text class="fl" x="362" y="1185">BPD</text>
<text class="fl" x="594" y="1185">BPD+3-HAA</text>
</svg>
</body></html>
